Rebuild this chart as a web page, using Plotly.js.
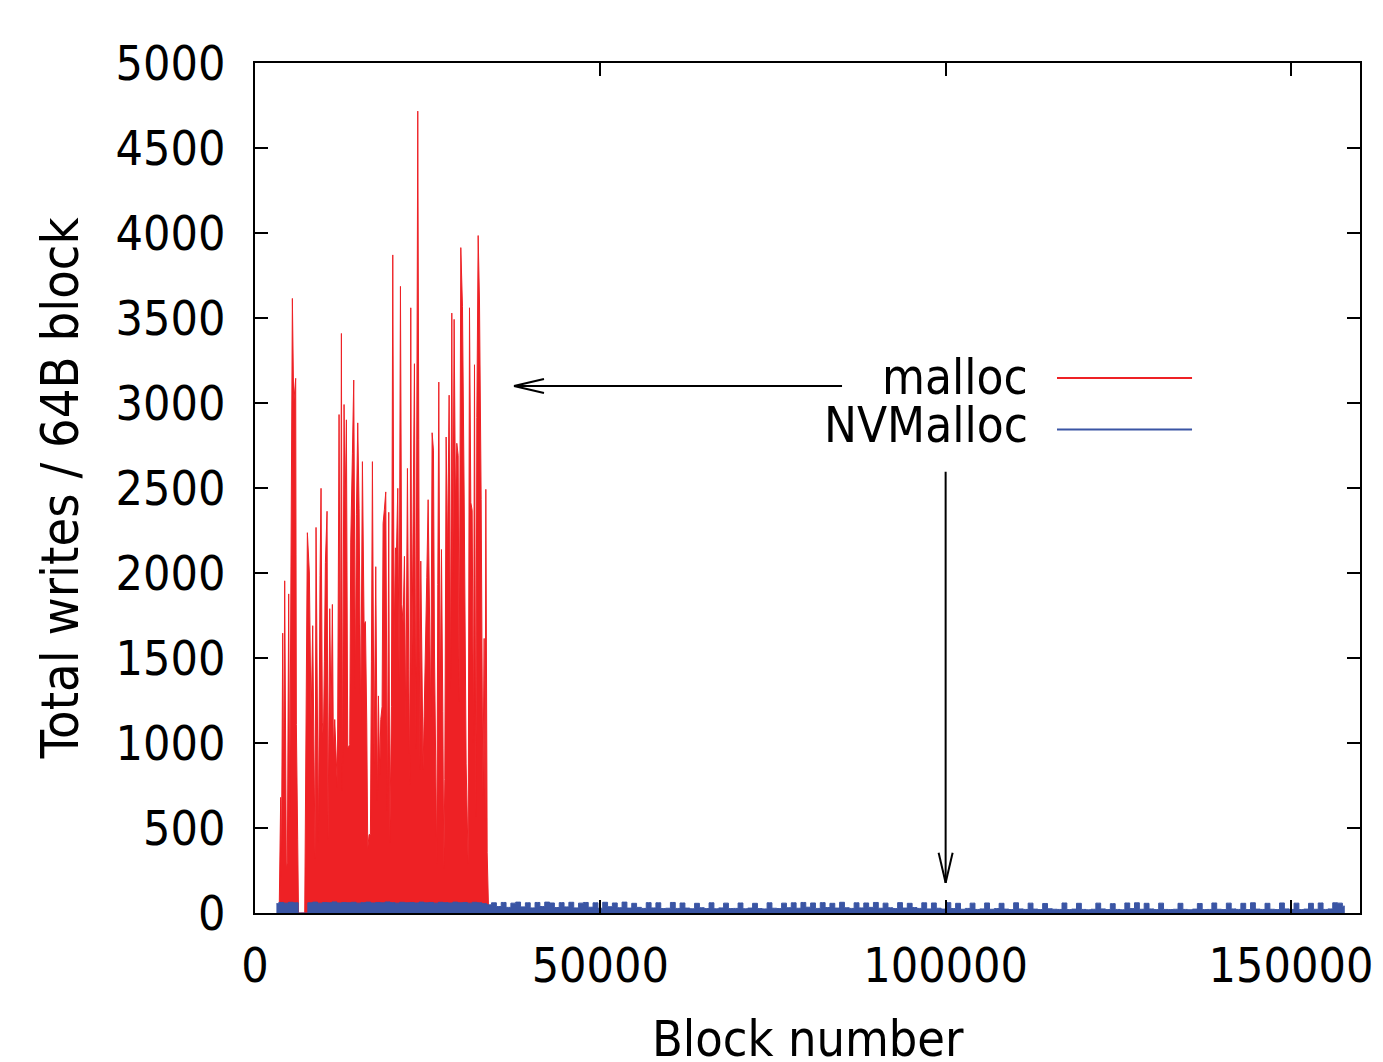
<!DOCTYPE html>
<html>
<head>
<meta charset="utf-8">
<script src="https://cdn.plot.ly/plotly-3.0.1.min.js"></script>
<style>
  html, body { margin: 0; padding: 0; background: #ffffff; }
  #chart { width: 1383px; height: 1062px; }
</style>
</head>
<body>
<div id="chart"></div>
<script>
// ---- Series names ----
const seriesNames = ["malloc", "NVMalloc"];
const xTitle = "Block number";
const yTitle = "Total writes / 64B block";

// ---- malloc: block number -> total writes ----
const mallocX = [3500,3622,3719,3816,4009,4154,4299,4540,4685,4878,5023,5410,5603,5893,5989,6182,6300,7200,
  7438,7583,7873,8114,8356,8549,8694,8839,9032,9177,9418,9563,9757,9901,10046,10191,10433,10578,10819,11012,
  11206,11350,11544,11737,11930,12172,12365,12510,12655,12896,13041,13234,13427,13717,13862,14104,14297,14538,
  14683,14876,15070,15311,15553,15794,15987,16180,16325,16519,16712,16857,17002,17243,17485,17726,17871,18064,
  18209,18402,18547,18740,18934,19175,19368,19513,19755,19948,20141,20334,20479,20672,20866,21059,21252,21445,
  21638,21832,22073,22266,22411,22556,22701,22894,23087,23281,23425,23570,23715,23860,24005,24198,24343,24488,
  24681,24874,25068,25261,25454,25647,25840,25985,26179,26323,26468,26613,26806,26999,27193,27338,27483,27676,
  27869,28111,28304,28497,28642,28835,29028,29221,29415,29560,29801,30043,30284,30573,30863,31057,31250,31443,
  31636,31781,31975,32119,32313,32506,32747,32989,33182,33327,33424,33617,33810,34200];
const mallocY = [0,540,680,200,1646,700,1954,260,300,1877,570,3615,3000,3145,1108,430,0,0,
  1308,2237,2000,1123,1690,1077,323,2268,1400,415,1985,2498,1123,1015,1477,2061,2363,430,1790,1123,
  1815,954,1138,892,738,2932,1092,3409,723,2991,2360,2901,969,990,2182,2701,3135,1323,
  2345,2883,2378,1108,2655,1692,1714,1123,378,461,461,1477,2655,877,2037,661,1277,815,
  1138,1215,2292,2375,2477,600,2357,415,1215,3871,1584,2148,2108,2498,1369,3686,1815,1707,
  2098,1092,2615,1430,754,3560,1400,2323,3231,969,3677,4717,2785,846,2070,1400,846,1154,
  1492,1975,2431,1553,1154,2825,2723,1553,631,292,1932,3123,1185,2138,1185,262,785,2800,
  2077,3046,1323,3529,1969,3492,2400,2763,2692,1246,3914,3569,2459,877,292,3560,2415,2369,
  1000,3225,569,2914,3985,3600,2431,692,1615,538,2492,354,30,0];

// ---- NVMalloc: block number -> total writes ----
const nvX = [3100,3800,4500,5200,5900,6600,7300,8000,8700,9400,
  10100,10800,11500,12200,12900,13600,14300,15000,15700,16400,
  17100,17800,18500,19200,19900,20600,21300,22000,22700,23400,
  24100,24800,25500,26200,26900,27600,28300,29000,29700,30400,
  31100,31800,32500,33200,33900,
  34600,35300,36000,36700,37400,38100,38800,39500,40200,40900,
  41600,42300,43000,43700,44400,45100,45800,46500,47200,47900,
  48600,49300,50000,50700,51400,52100,52800,53500,54200,54900,
  55600,56300,57000,57700,58400,59100,59800,60500,61200,61900,
  62600,63300,64000,64700,65400,66100,66800,67500,68200,68900,
  69600,70300,71000,71700,72400,73100,73800,74500,75200,75900,
  76600,77300,78000,78700,79400,80100,80800,81500,82200,82900,
  83600,84300,85000,85700,86400,87100,87800,88500,89200,89900,
  90600,91300,92000,92700,93400,94100,94800,95500,96200,96900,
  97600,98300,99000,99700,100400,101100,101800,102500,103200,103900,
  104600,105300,106000,106700,107400,108100,108800,109500,110200,110900,
  111600,112300,113000,113700,114400,115100,115800,116500,117200,117900,
  118600,119300,120000,120700,121400,122100,122800,123500,124200,124900,
  125600,126300,127000,127700,128400,129100,129800,130500,131200,131900,
  132600,133300,134000,134700,135400,136100,136800,137500,138200,138900,
  139600,140300,141000,141700,142400,143100,143800,144500,145200,145900,
  146600,147300,148000,148700,149400,150100,150800,151500,152200,152900,
  153600,154300,155000,155700,156400,157100,157800];
const nvY = [55,62,58,63,60,0,0,60,64,58,
  62,60,65,59,62,60,63,58,61,64,
  59,62,60,65,61,58,63,60,62,59,
  64,60,62,58,63,61,59,64,60,62,
  58,63,60,55,48,
  60,38,62,33,58,64,36,60,30,62,
  38,64,59,32,61,36,63,30,58,62,
  34,60,28,63,37,59,31,64,29,57,
  33,27,61,30,60,26,28,62,27,59,
  29,25,57,31,26,60,25,30,58,26,
  27,59,25,29,57,26,24,60,28,26,
  58,31,60,28,62,34,59,27,61,32,
  57,29,63,31,27,60,30,59,33,62,
  28,58,31,26,61,29,57,32,27,60,
  24,59,28,23,61,26,57,22,27,58,
  21,24,59,22,26,57,23,20,60,24,
  21,58,23,20,56,25,22,21,59,20,
  23,57,21,19,22,58,24,20,55,21,
  19,59,26,60,22,57,24,20,58,21,
  20,22,57,21,19,23,56,20,21,59,
  22,20,58,24,21,57,20,60,23,21,
  57,22,20,59,24,21,58,20,23,57,
  22,59,21,24,60,58,40];

// ---- axis ticks ----
const xTicks = [0, 50000, 100000, 150000];
const xTickText = ["0", "50000", "100000", "150000"];
const yTicks = [0, 500, 1000, 1500, 2000, 2500, 3000, 3500, 4000, 4500, 5000];

// ---- annotation arrows: [tailX, tailY, tipX, tipY] in data units ----
const arrowMalloc = [85000, 3100, 37500, 3100];
const arrowNV = [100000, 2595, 100000, 178];

const RED = "#ee2125";
const BLUE = "#3a55a4";
const FONT = "DejaVu Sans Condensed, DejaVu Sans, sans-serif";

// plot geometry used only to size arrowheads in pixels
const L = 255, R = 23, T = 63, B = 149, W = 1383, H = 1062;
const xRange = [0, 160000], yRange = [0, 5000];
const pxX = (W - L - R) / (xRange[1] - xRange[0]);
const pxY = (H - T - B) / (yRange[1] - yRange[0]);

function arrowShapes(a) {
  const [tx0, ty0, hx, hy] = a;
  const shapes = [];
  shapes.push({type: "line", xref: "x", yref: "y", x0: tx0, y0: ty0, x1: hx, y1: hy,
               line: {color: "black", width: 2}});
  const dxp = (tx0 - hx) * pxX, dyp = (ty0 - hy) * pxY;
  const len = Math.hypot(dxp, dyp);
  const ux = dxp / len, uy = dyp / len;
  const back = 30, half = 7;
  [1, -1].forEach(s => {
    const px = ux * back + (-uy) * half * s;
    const py = uy * back + (ux) * half * s;
    shapes.push({type: "line", xref: "x", yref: "y", x0: hx, y0: hy,
                 x1: hx + px / pxX, y1: hy + py / pxY,
                 line: {color: "black", width: 2}});
  });
  return shapes;
}

const traces = [
  {x: mallocX, y: mallocY, name: seriesNames[0], type: "scatter", mode: "lines",
   line: {color: RED, width: 1}, fill: "tozeroy", fillcolor: RED, showlegend: false, hoverinfo: "x+y"},
  {x: nvX, y: nvY, name: seriesNames[1], type: "scatter", mode: "lines",
   line: {color: BLUE, width: 1, shape: "hvh"}, fill: "tozeroy", fillcolor: BLUE, showlegend: false, hoverinfo: "x+y"}
];

// legend drawn gnuplot-style: label left, sample line right
const legendY = [0.6295, 0.5688];
const legendShapes = [
  {type: "line", xref: "paper", yref: "paper", x0: 0.7258, x1: 0.848, y0: legendY[0], y1: legendY[0], line: {color: RED, width: 2}},
  {type: "line", xref: "paper", yref: "paper", x0: 0.7258, x1: 0.848, y0: legendY[1], y1: legendY[1], line: {color: BLUE, width: 2}}
];
const textAnn = [
  {xref: "paper", yref: "paper", x: 0.7015, y: legendY[0] + 0.001, xanchor: "right", yanchor: "middle",
   height: 40, valign: "middle",
   text: seriesNames[0], showarrow: false, font: {family: FONT, size: 49, color: "black"}},
  {xref: "paper", yref: "paper", x: 0.7015, y: legendY[1] + 0.005, xanchor: "right", yanchor: "middle",
   height: 40, valign: "middle",
   text: seriesNames[1], showarrow: false, font: {family: FONT, size: 49, color: "black"}},
  // x-axis title (placed low like the original, beyond Plotly's margin constraint)
  {xref: "paper", yref: "paper", x: 0.5005, y: -0.1485, xanchor: "center", yanchor: "middle",
   text: xTitle, showarrow: false, font: {family: FONT, size: 50, color: "black"}}
];

const layout = {
  width: W, height: H,
  margin: {l: L, r: R, t: T, b: B, pad: 0},
  paper_bgcolor: "white", plot_bgcolor: "white",
  font: {family: FONT, size: 48, color: "black"},
  showlegend: false,
  xaxis: {
    range: xRange, tickvals: xTicks, ticktext: xTickText,
    ticks: "inside", ticklen: 13, tickwidth: 2, tickcolor: "black",
    showline: true, linewidth: 2, linecolor: "black", mirror: "ticks",
    showgrid: false, zeroline: false, ticklabelstandoff: 9,
    tickfont: {family: FONT, size: 48, color: "black"},
    automargin: false
  },
  yaxis: {
    range: yRange, tickvals: yTicks,
    ticks: "inside", ticklen: 13, tickwidth: 2, tickcolor: "black",
    showline: true, linewidth: 2, linecolor: "black", mirror: "ticks",
    showgrid: false, zeroline: false, ticklabelstandoff: 18,
    tickfont: {family: FONT, size: 48, color: "black"},
    title: {text: yTitle, font: {family: FONT, size: 52, color: "black"}, standoff: 20},
    automargin: false
  },
  shapes: [...arrowShapes(arrowMalloc), ...arrowShapes(arrowNV), ...legendShapes],
  annotations: textAnn
};

Plotly.newPlot("chart", traces, layout, {staticPlot: true, displayModeBar: false});
</script>
</body>
</html>
